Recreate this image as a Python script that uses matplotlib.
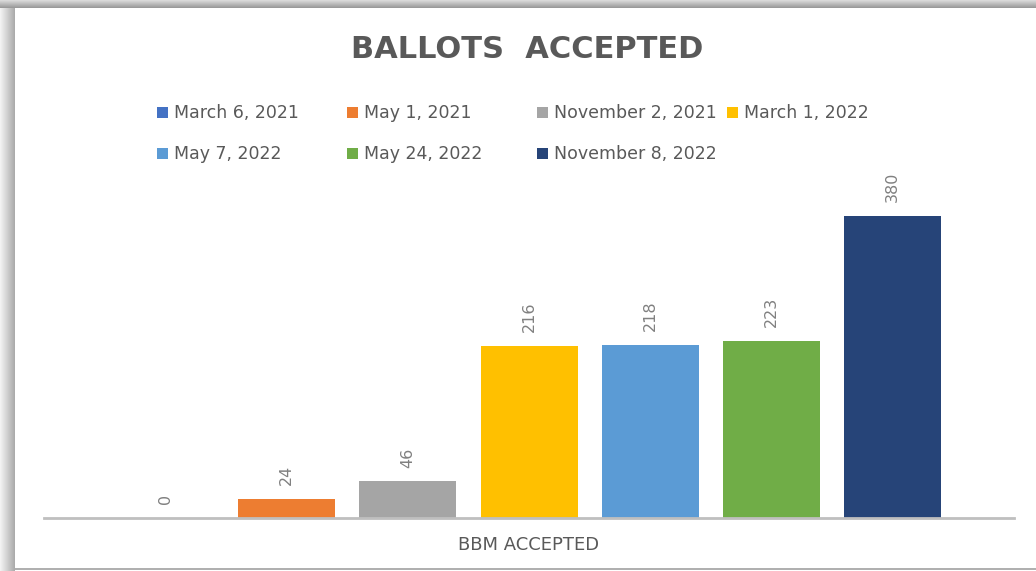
import numpy as np
import matplotlib
matplotlib.use("Agg")
import matplotlib.pyplot as plt
from matplotlib.patches import Rectangle

# data
dates = ["March 6, 2021", "May 1, 2021", "November 2, 2021", "March 1, 2022",
         "May 7, 2022", "May 24, 2022", "November 8, 2022"]
accepted = [0, 24, 46, 216, 218, 223, 380]
colors = ["#4472C4", "#ED7D31", "#A5A5A5", "#FFC000", "#5B9BD5", "#70AD47", "#264478"]
category = "BBM ACCEPTED"
title = "BALLOTS  ACCEPTED"

W, H = 1036, 571
fig = plt.figure(figsize=(W / 100, H / 100), dpi=100)
fig.patch.set_facecolor("white")


def px(x, y):
    # pixel (from top-left) to figure coords
    return x / W, 1 - y / H


# frame with a soft shadow on top and left, thin line at the bottom
for i in range(8):
    shade = 0.85 - 0.035 * i
    fig.patches.append(Rectangle(px(0, i + 1), 1, 1 / H, transform=fig.transFigure,
                                 facecolor=str(shade), edgecolor="none", zorder=0))
for i in range(15):
    shade = 0.95 - 0.02 * i
    fig.patches.append(Rectangle((i / W, 0), 1 / W, 1 - 8 / H, transform=fig.transFigure,
                                 facecolor=str(shade), edgecolor="none", zorder=0))
fig.patches.append(Rectangle(px(15, 570), 1, 2 / H, transform=fig.transFigure,
                             facecolor="#b0b0b0", edgecolor="none", zorder=0))

# plot area
left, right, base, top = 44, 1014, 518, 200
ax = fig.add_axes([left / W, 1 - base / H, (right - left) / W, (base - top) / H])
x = np.arange(len(dates))
bars = ax.bar(x, accepted, width=0.8, color=colors, zorder=2)
ax.bar_label(bars, labels=[str(v) for v in accepted], rotation=90, padding=10,
             fontsize=11.5, color="#808080")
ax.set_xlim(-1, 7)
ax.set_ylim(0, 400)
ax.set_xticks([])
ax.set_yticks([])
for side in ["top", "right", "left"]:
    ax.spines[side].set_visible(False)
ax.spines["bottom"].set_color("#bfbfbf")
ax.spines["bottom"].set_linewidth(2)
ax.set_xlabel(category, fontsize=13, color="#595959", labelpad=13)

fig.text(*px(527, 50), title, ha="center", va="center", fontsize=22,
         fontweight="bold", color="#595959")

# legend laid out like the source (fixed column width)
col_x = [157, 347, 537, 727]
row_y = [113, 154]
for i, (label, c) in enumerate(zip(dates, colors)):
    mx = col_x[i % 4]
    my = row_y[i // 4]
    fig.patches.append(Rectangle(px(mx, my + 5), 11 / W, 11 / H, transform=fig.transFigure,
                                 facecolor=c, edgecolor="none"))
    fig.text(*px(mx + 17, my), label, ha="left", va="center", fontsize=12.5, color="#595959")

fig.savefig("out.png", dpi=100)
